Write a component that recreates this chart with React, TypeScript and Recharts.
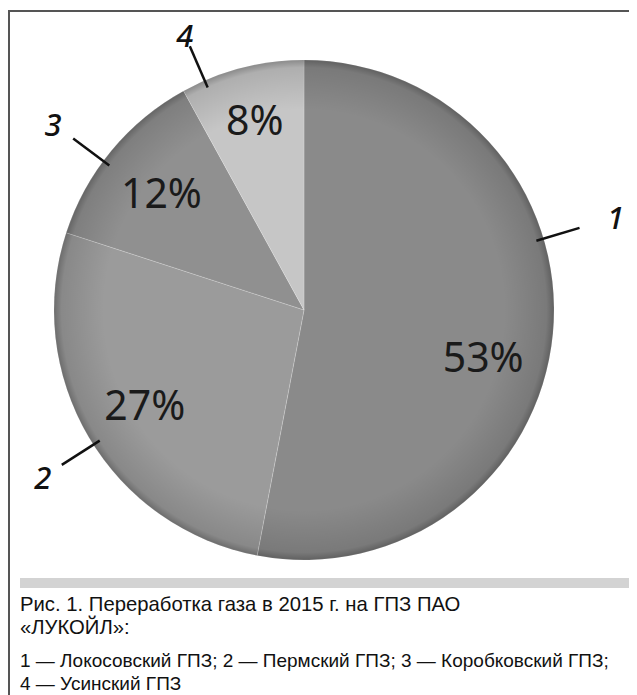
import React from 'react';
import { PieChart, Pie, Cell, Sector } from 'recharts';

const plants = ['Локосовский ГПЗ', 'Пермский ГПЗ', 'Коробковский ГПЗ', 'Усинский ГПЗ'];
const plantNumbers = ['1', '2', '3', '4'];
const shares = [53, 27, 12, 8];
const sliceColors = ['#8a8a8a', '#9b9b9b', '#909090', '#c6c6c6'];

const captionTitle = ['Рис. 1. Переработка газа в 2015 г. на ГПЗ ПАО', '«ЛУКОЙЛ»:'];
const captionLegend = [
  '1 — Локосовский ГПЗ; 2 — Пермский ГПЗ; 3 — Коробковский ГПЗ;',
  '4 — Усинский ГПЗ',
];

const data = plants.map((name, i) => ({ name, num: plantNumbers[i], value: shares[i] }));

const CX = 296;
const CY = 302;
const R = 250;
const RAD = Math.PI / 180;
// label placement tweaks: angle nudges (deg) and radius factors
const percentShift = [-9, 0, 0, 0];
const percentReach = [0.74, 0.74, 0.74, 0.79];
const calloutShift = [22, 2, 3, 9];
const calloutReach = [1.3, 1.24, 1.25, 1.2];

const pt = (cx: number, cy: number, r: number, a: number): [number, number] => [
  cx + r * Math.cos(-a * RAD),
  cy + r * Math.sin(-a * RAD),
];

const ShadedSector = (props: any) => (
  <g>
    <Sector {...props} stroke="rgba(255,255,255,0.35)" strokeWidth={0.6} />
    <Sector {...props} fill="url(#edgeShade)" stroke="none" />
  </g>
);

const renderLabel = (props: any) => {
  const { cx, cy, midAngle, outerRadius, index } = props;
  const [tx, ty] = pt(cx, cy, outerRadius * percentReach[index], midAngle + percentShift[index]);
  const a = midAngle + calloutShift[index];
  const [lx1, ly1] = pt(cx, cy, outerRadius * 0.97, a);
  const [lx2, ly2] = pt(cx, cy, outerRadius * 1.15, a);
  const [nx, ny] = pt(cx, cy, outerRadius * calloutReach[index], a);
  return (
    <g>
      <text
        x={tx}
        y={ty}
        textAnchor="middle"
        dominantBaseline="central"
        fontFamily="'Noto Sans', sans-serif"
        fontSize={41}
        fill="#1a1a1a"
      >
        {`${shares[index]}%`}
      </text>
      <line x1={lx1} y1={ly1} x2={lx2} y2={ly2} stroke="#111" strokeWidth={2.5} />
      <text
        x={nx}
        y={ny}
        textAnchor="middle"
        dominantBaseline="central"
        fontFamily="'Noto Sans', sans-serif"
        fontStyle="italic"
        fontWeight={500}
        fontSize={31}
        fill="#111"
      >
        {plantNumbers[index]}
      </text>
    </g>
  );
};

export default function App() {
  return (
    <div style={{ position: 'relative', width: 629, height: 687, fontFamily: "'Liberation Sans', Arial, sans-serif" }}>
      <div
        style={{
          position: 'absolute',
          left: 0,
          top: 2,
          width: 629,
          height: 685,
          borderTop: '2px solid #555',
          borderLeft: '2px solid #555',
          boxSizing: 'border-box',
        }}
      />
      <div style={{ position: 'absolute', left: 0, top: 0 }}>
        <PieChart width={629} height={568} margin={{ top: 0, right: 0, bottom: 0, left: 0 }}>
          <defs>
            <radialGradient id="edgeShade" gradientUnits="userSpaceOnUse" cx={CX} cy={CY} r={R}>
              <stop offset="0.8" stopColor="#000" stopOpacity={0} />
              <stop offset="0.97" stopColor="#000" stopOpacity={0.12} />
              <stop offset="1" stopColor="#000" stopOpacity={0.3} />
            </radialGradient>
          </defs>
          <Pie
            data={data}
            dataKey="value"
            nameKey="name"
            cx={CX}
            cy={CY}
            outerRadius={R}
            startAngle={90}
            endAngle={-270}
            shape={ShadedSector}
            label={renderLabel}
            labelLine={false}
            isAnimationActive={false}
          >
            {data.map((d, i) => (
              <Cell key={d.name} fill={sliceColors[i]} />
            ))}
          </Pie>
        </PieChart>
      </div>
      <div style={{ position: 'absolute', left: 12, top: 570, width: 612, height: 10, background: '#d3d3d3' }} />
      <div style={{ position: 'absolute', left: 12, top: 585, fontSize: 20.3, lineHeight: '23px', color: '#111' }}>
        {captionTitle.map((t) => (
          <div key={t}>{t}</div>
        ))}
      </div>
      <div style={{ position: 'absolute', left: 12, top: 641, fontSize: 19, lineHeight: '23px', color: '#111', whiteSpace: 'nowrap' }}>
        {captionLegend.map((t) => (
          <div key={t}>{t}</div>
        ))}
      </div>
    </div>
  );
}
